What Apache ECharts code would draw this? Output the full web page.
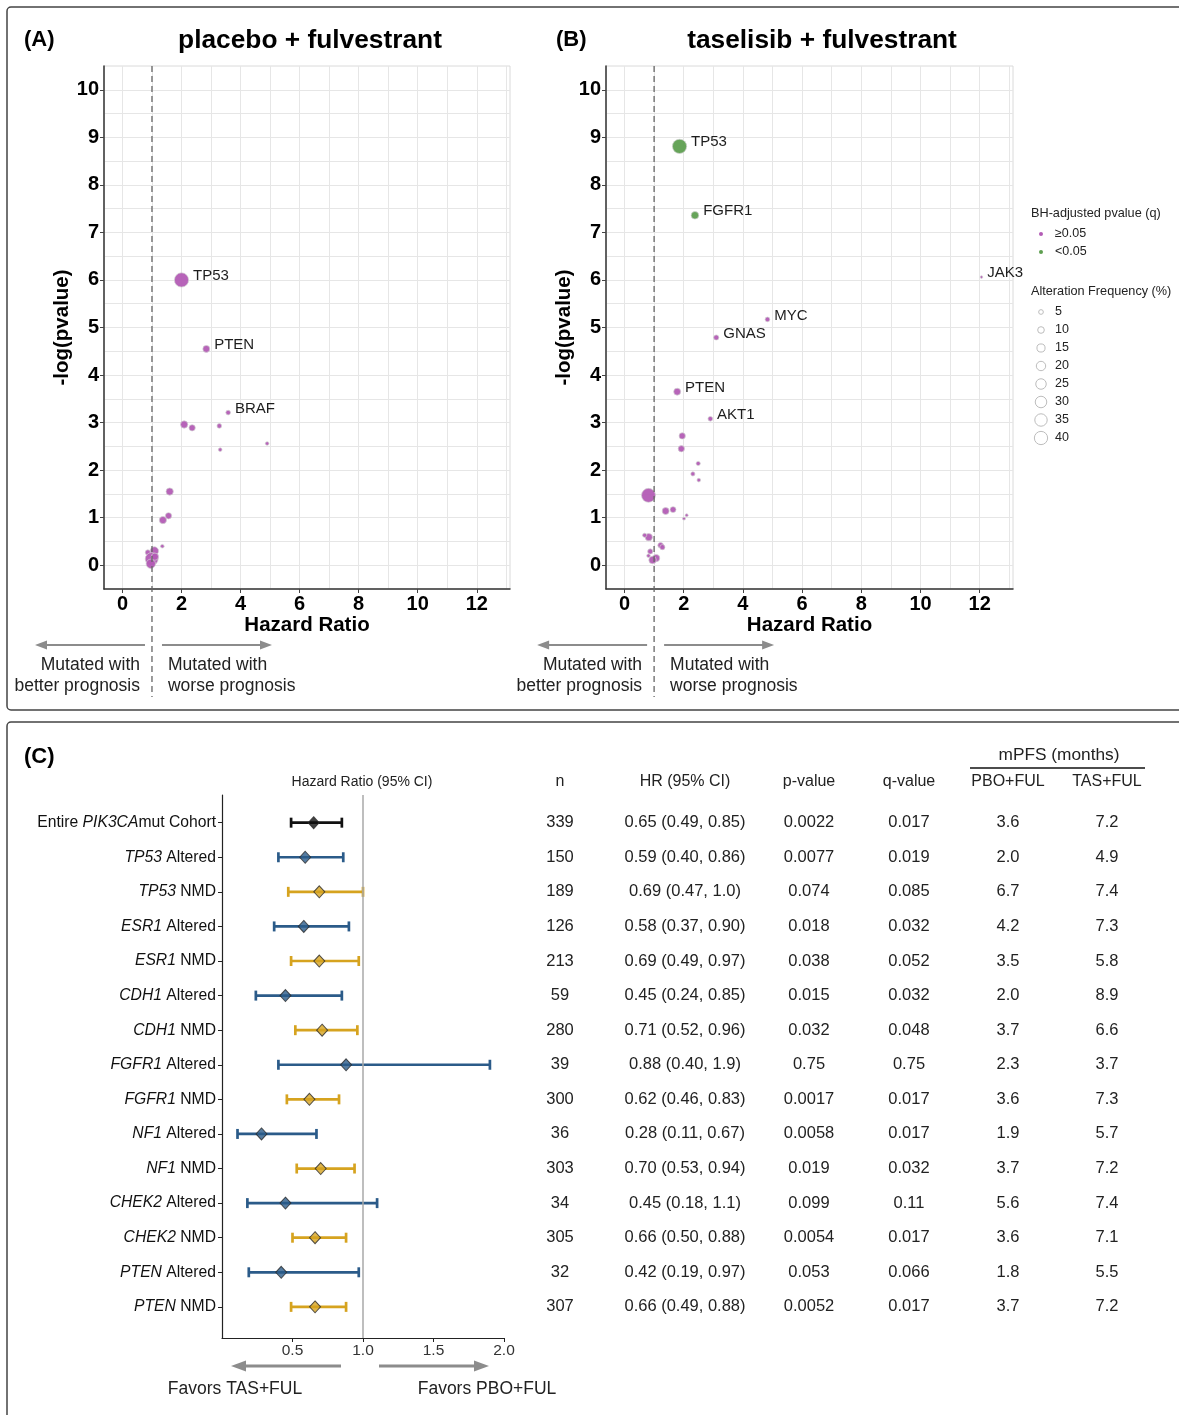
<!DOCTYPE html>
<html><head><meta charset="utf-8">
<script src="https://cdn.jsdelivr.net/npm/echarts@6/dist/echarts.min.js"></script>
<style>html,body{margin:0;padding:0;background:#fff}#c{width:1179px;height:1415px}</style>
</head><body><div id="c"></div>
<script>
// ---------- Panel A: placebo + fulvestrant ----------
const aHR   = [2.00, 2.84, 3.58, 2.09, 2.36, 3.28, 3.31, 4.90, 1.60, 1.56, 1.37, 1.35, 1.08, 0.86, 0.99, 0.96, 1.10];
const aNLP  = [6.00, 4.55, 3.21, 2.96, 2.89, 2.93, 2.43, 2.56, 1.55, 1.04, 0.95, 0.40, 0.30, 0.27, 0.13, 0.03, 0.18];
const aFreq = [46, 11, 5, 12, 9, 5, 3, 3, 12, 9, 12, 3, 16, 6, 38, 20, 12];
const aGene = ['TP53', 'PTEN', 'BRAF', '', '', '', '', '', '', '', '', '', '', '', '', '', ''];
const aSig  = [0, 0, 0, 0, 0, 0, 0, 0, 0, 0, 0, 0, 0, 0, 0, 0, 0];

// ---------- Panel B: taselisib + fulvestrant ----------
const bHR   = [1.86, 2.38, 12.06, 4.83, 3.10, 1.78, 2.90, 1.95, 1.92, 2.49, 2.31, 2.51, 0.81, 1.39, 1.64, 2.10, 2.01, 0.82, 0.68, 1.22, 1.28, 0.87, 0.81, 1.07, 0.95];
const bNLP  = [8.81, 7.36, 6.06, 5.17, 4.79, 3.65, 3.08, 2.72, 2.45, 2.14, 1.92, 1.79, 1.47, 1.14, 1.17, 1.05, 0.98, 0.59, 0.63, 0.42, 0.38, 0.29, 0.20, 0.15, 0.11];
const bFreq = [46, 13, 1.5, 5, 6, 11, 5, 9, 9, 4, 4, 3, 44, 11, 8, 2, 2, 12, 4, 7, 6, 6, 3, 12, 13];
const bGene = ['TP53', 'FGFR1', 'JAK3', 'MYC', 'GNAS', 'PTEN', 'AKT1', '', '', '', '', '', '', '', '', '', '', '', '', '', '', '', '', '', ''];
const bSig  = [1, 1, 0, 0, 0, 0, 0, 0, 0, 0, 0, 0, 0, 0, 0, 0, 0, 0, 0, 0, 0, 0, 0, 0, 0];

const scatterXTicks = [0, 2, 4, 6, 8, 10, 12];
const scatterYTicks = [0, 1, 2, 3, 4, 5, 6, 7, 8, 9, 10];
const legendFreq = [5, 10, 15, 20, 25, 30, 35, 40];
const legendQ = ['≥0.05', '<0.05'];

// ---------- Panel C: forest plot + table ----------
const rowGene  = ['PIK3CA', 'TP53', 'TP53', 'ESR1', 'ESR1', 'CDH1', 'CDH1', 'FGFR1', 'FGFR1', 'NF1', 'NF1', 'CHEK2', 'CHEK2', 'PTEN', 'PTEN'];
const rowGroup = ['Cohort', 'Altered', 'NMD', 'Altered', 'NMD', 'Altered', 'NMD', 'Altered', 'NMD', 'Altered', 'NMD', 'Altered', 'NMD', 'Altered', 'NMD'];
const rowN     = [339, 150, 189, 126, 213, 59, 280, 39, 300, 36, 303, 34, 305, 32, 307];
const rowHR    = [0.65, 0.59, 0.69, 0.58, 0.69, 0.45, 0.71, 0.88, 0.62, 0.28, 0.70, 0.45, 0.66, 0.42, 0.66];
const rowLo    = [0.49, 0.40, 0.47, 0.37, 0.49, 0.24, 0.52, 0.40, 0.46, 0.11, 0.53, 0.18, 0.50, 0.19, 0.49];
const rowHi    = [0.85, 0.86, 1.0, 0.90, 0.97, 0.85, 0.96, 1.9, 0.83, 0.67, 0.94, 1.1, 0.88, 0.97, 0.88];
const rowP     = ['0.0022', '0.0077', '0.074', '0.018', '0.038', '0.015', '0.032', '0.75', '0.0017', '0.0058', '0.019', '0.099', '0.0054', '0.053', '0.0052'];
const rowQ     = ['0.017', '0.019', '0.085', '0.032', '0.052', '0.032', '0.048', '0.75', '0.017', '0.017', '0.032', '0.11', '0.017', '0.066', '0.017'];
const rowPBO   = ['3.6', '2.0', '6.7', '4.2', '3.5', '2.0', '3.7', '2.3', '3.6', '1.9', '3.7', '5.6', '3.6', '1.8', '3.7'];
const rowTAS   = ['7.2', '4.9', '7.4', '7.3', '5.8', '8.9', '6.6', '3.7', '7.3', '5.7', '7.2', '7.4', '7.1', '5.5', '7.2'];
const forestTicks = [0.5, 1.0, 1.5, 2.0];

// ---------- styling ----------
const FONT = '"Liberation Sans", Arial, Helvetica, sans-serif';
const PURPLE = '#B35CB5', GREEN = '#5E9F50';
const GROUP_COLOR = { Cohort: '#111111', Altered: '#2B5B89', NMD: '#D6A31F' };
const sizeOf = f => 2.1 * Math.sqrt(f);
const fmtCI = v => v >= 1 ? v.toFixed(1) : v.toFixed(2);

const rng = (a, b, s) => { const r = []; for (let v = a; v <= b + 1e-9; v += s) r.push(+v.toFixed(3)); return r; };
const xGrid = rng(0, 13, 1), yGrid = rng(0, 10, 0.5);
const rowIdx = rowN.map((_, i) => i + 1);

const GRIDS = [
  { left: 104, top: 66, width: 406, height: 523 },
  { left: 606, top: 66, width: 407, height: 523 },
  { left: 222, top: 795, width: 282, height: 543 }
];

function scatterAxes(gi) {
  const xa = [
    { gridIndex: gi, type: 'value', min: -0.625, max: 13.125, position: 'bottom',
      axisLine: { show: true, onZero: false, lineStyle: { color: '#333', width: 1.5 } },
      axisTick: { show: false, customValues: xGrid }, axisLabel: { show: false },
      splitLine: { show: true, lineStyle: { color: '#E6E6E6', width: 1 } } },
    { gridIndex: gi, type: 'value', min: -0.625, max: 13.125, position: 'bottom',
      axisLine: { show: false, onZero: false }, splitLine: { show: false },
      axisTick: { show: true, customValues: scatterXTicks, length: 4, lineStyle: { color: '#444' } },
      axisLabel: { customValues: scatterXTicks, fontSize: 20, fontWeight: 'bold', color: '#000', margin: 5, fontFamily: FONT },
      name: 'Hazard Ratio', nameLocation: 'middle', nameGap: 24,
      nameTextStyle: { fontSize: 20.5, fontWeight: 'bold', color: '#000', fontFamily: FONT } }
  ];
  const ya = [
    { gridIndex: gi, type: 'value', min: -0.5, max: 10.5, position: 'left',
      axisLine: { show: true, onZero: false, lineStyle: { color: '#333', width: 1.5 } },
      axisTick: { show: false, customValues: yGrid }, axisLabel: { show: false },
      splitLine: { show: true, lineStyle: { color: '#E6E6E6', width: 1 } } },
    { gridIndex: gi, type: 'value', min: -0.5, max: 10.5, position: 'left',
      axisLine: { show: false, onZero: false }, splitLine: { show: false },
      axisTick: { show: true, customValues: scatterYTicks, length: 4, lineStyle: { color: '#444' } },
      axisLabel: { customValues: scatterYTicks, fontSize: 20, fontWeight: 'bold', color: '#000', margin: 5, fontFamily: FONT },
      name: '-log(pvalue)', nameLocation: 'middle', nameGap: 30,
      nameTextStyle: { fontSize: 20.5, fontWeight: 'bold', color: '#000', fontFamily: FONT } }
  ];
  return { xa, ya };
}

function scatterSeries(xi, yi, hr, nlp, freq, gene, sig) {
  return {
    type: 'scatter', xAxisIndex: xi, yAxisIndex: yi, silent: true, z: 3,
    data: hr.map((h, i) => ({ value: [h, nlp[i], freq[i]], name: gene[i],
      itemStyle: { color: sig[i] ? GREEN : PURPLE } })),
    symbolSize: v => sizeOf(v[2]),
    itemStyle: { borderColor: 'rgba(210,210,210,0.9)', borderWidth: 0.8, opacity: 0.95 },
    label: { show: true, position: 'right', distance: 4, formatter: p => p.name,
      fontSize: 15, color: '#111', fontFamily: FONT },
    labelLayout: { hideOverlap: false, dy: -4 }
  };
}

const A = scatterAxes(0), B = scatterAxes(1);

const option = {
  animation: false,
  backgroundColor: '#fff',
  textStyle: { fontFamily: FONT },
  grid: [
    Object.assign({ show: true, borderColor: '#DADADA', borderWidth: 1, containLabel: false }, GRIDS[0]),
    Object.assign({ show: true, borderColor: '#DADADA', borderWidth: 1, containLabel: false }, GRIDS[1]),
    Object.assign({ show: false, containLabel: false }, GRIDS[2])
  ],
  xAxis: [
    ...A.xa, ...B.xa,
    { gridIndex: 2, type: 'value', min: 0, max: 2, position: 'bottom',
      axisLine: { show: true, onZero: false, lineStyle: { color: '#222', width: 1.2 } },
      axisTick: { show: true, customValues: forestTicks, length: 4, lineStyle: { color: '#222' } },
      axisLabel: { customValues: forestTicks, formatter: v => v.toFixed(1), fontSize: 15.5, color: '#333', margin: 5, fontFamily: FONT },
      splitLine: { show: false } }
  ],
  yAxis: [
    ...A.ya, ...B.ya,
    { gridIndex: 2, type: 'value', min: 0.2, max: 15.9, inverse: true, position: 'left',
      axisLine: { show: true, onZero: false, lineStyle: { color: '#222', width: 1.2 } },
      axisTick: { show: true, customValues: rowIdx, length: 4, lineStyle: { color: '#222' } },
      axisLabel: { customValues: rowIdx, margin: 6, fontSize: 15.7, color: '#111', fontFamily: FONT,
        formatter: v => {
          const i = Math.round(v) - 1;
          if (rowGroup[i] === 'Cohort') return 'Entire {i|' + rowGene[i] + '}mut Cohort';
          return '{i|' + rowGene[i] + '} ' + rowGroup[i];
        },
        rich: { i: { fontStyle: 'italic', fontSize: 15.7, color: '#111', fontFamily: FONT } } },
      splitLine: { show: false } }
  ],
  series: [
    scatterSeries(0, 0, aHR, aNLP, aFreq, aGene, aSig),
    scatterSeries(2, 2, bHR, bNLP, bFreq, bGene, bSig),
    {
      type: 'custom', xAxisIndex: 4, yAxisIndex: 4, silent: true, z: 2,
      data: rowHR.map((_, i) => [rowLo[i], rowHi[i], i + 1, i]),
      encode: { x: [0, 1], y: 2 },
      renderItem: (params, api) => {
        const a = api.coord([api.value(0), api.value(2)]);
        const b = api.coord([api.value(1), api.value(2)]);
        const c = GROUP_COLOR[rowGroup[api.value(3)]];
        const h = 5, st = { stroke: c, lineWidth: 2.7 };
        return { type: 'group', children: [
          { type: 'line', shape: { x1: a[0], y1: a[1], x2: b[0], y2: b[1] }, style: st },
          { type: 'line', shape: { x1: a[0], y1: a[1] - h, x2: a[0], y2: a[1] + h }, style: st },
          { type: 'line', shape: { x1: b[0], y1: b[1] - h, x2: b[0], y2: b[1] + h }, style: st }
        ] };
      }
    },
    {
      type: 'scatter', xAxisIndex: 4, yAxisIndex: 4, silent: true, z: 4,
      symbol: 'diamond', symbolSize: [11, 12],
      data: rowHR.map((h, i) => ({ value: [h, i + 1], itemStyle: { color: GROUP_COLOR[rowGroup[i]] } })),
      itemStyle: { borderColor: '#2a2a2a', borderWidth: 1 },
      markLine: { silent: true, symbol: 'none', label: { show: false },
        lineStyle: { color: '#A8A8A8', type: 'solid', width: 1.5 }, data: [{ xAxis: 1 }] }
    }
  ]
};

const chart = echarts.init(document.getElementById('c'), null, { renderer: 'canvas', width: 1179, height: 1415 });
chart.setOption(option);

// ---------- annotations ----------
const g = [];
function txt(x, y, t, o) {
  o = o || {};
  g.push({ type: 'text', x: x, y: y, silent: true, z: 10,
    style: { text: t, fontSize: o.size || 15, fontWeight: o.weight || 'normal', fontStyle: o.style || 'normal',
      fontFamily: FONT, fill: o.color || '#111',
      align: o.align || 'left', textAlign: o.align || 'left',
      verticalAlign: 'middle', textVerticalAlign: 'middle' } });
}
function arrow(x1, x2, y, w, hl, hw, color) {
  const d = Math.sign(x2 - x1);
  g.push({ type: 'line', silent: true, z: 10, shape: { x1: x1, y1: y, x2: x2 - d * hl * 0.7, y2: y }, style: { stroke: color, lineWidth: w } });
  g.push({ type: 'polygon', silent: true, z: 10, shape: { points: [[x2, y], [x2 - d * hl, y - hw / 2], [x2 - d * hl, y + hw / 2]] }, style: { fill: color } });
}

// outer boxes
g.push({ type: 'rect', silent: true, z: 0, shape: { x: 7, y: 7, width: 1200, height: 703, r: 4 }, style: { fill: 'none', stroke: '#444', lineWidth: 1.5 } });
g.push({ type: 'rect', silent: true, z: 0, shape: { x: 7, y: 722, width: 1200, height: 720, r: 4 }, style: { fill: 'none', stroke: '#444', lineWidth: 1.5 } });

// panel titles
txt(24, 40, '(A)', { size: 22, weight: 'bold', color: '#000' });
txt(310, 41, 'placebo + fulvestrant', { size: 26.3, weight: 'bold', color: '#000', align: 'center' });
txt(556, 40, '(B)', { size: 22, weight: 'bold', color: '#000' });
txt(822, 41, 'taselisib + fulvestrant', { size: 26.3, weight: 'bold', color: '#000', align: 'center' });
txt(24, 757, '(C)', { size: 22, weight: 'bold', color: '#000' });

// HR = 1 dashed lines + prognosis arrows
[0, 2].forEach((xi, k) => {
  const gx = chart.convertToPixel({ xAxisIndex: xi }, 1);
  const top = GRIDS[k].top;
  g.push({ type: 'line', silent: true, z: 9, shape: { x1: gx, y1: top, x2: gx, y2: 697 },
    style: { stroke: '#666', lineWidth: 1.3, lineDash: [6, 4] } });
  arrow(gx - 7, gx - 117, 645, 2, 12, 9, '#8C8C8C');
  arrow(gx + 10, gx + 120, 645, 2, 12, 9, '#8C8C8C');
  txt(gx - 12, 665, 'Mutated with', { size: 17.5, color: '#222', align: 'right' });
  txt(gx - 12, 686, 'better prognosis', { size: 17.5, color: '#222', align: 'right' });
  txt(gx + 16, 665, 'Mutated with', { size: 17.5, color: '#222' });
  txt(gx + 16, 686, 'worse prognosis', { size: 17.5, color: '#222' });
});

// legend for panel B
txt(1031, 213, 'BH-adjusted pvalue (q)', { size: 12.7, color: '#222' });
[PURPLE, GREEN].forEach((c, k) => {
  g.push({ type: 'circle', silent: true, z: 10, shape: { cx: 1041, cy: 234 + 18 * k, r: 2 }, style: { fill: c } });
  txt(1055, 234 + 18 * k, legendQ[k], { size: 12.5, color: '#222' });
});
txt(1031, 291, 'Alteration Frequency (%)', { size: 12.7, color: '#222' });
legendFreq.forEach((f, k) => {
  g.push({ type: 'circle', silent: true, z: 10, shape: { cx: 1041, cy: 312 + 18 * k, r: sizeOf(f) / 2 },
    style: { fill: '#fff', stroke: '#BDBDBD', lineWidth: 1 } });
  txt(1055, 312 + 18 * k, String(f), { size: 12.5, color: '#222' });
});

// forest header and table
txt(362, 782, 'Hazard Ratio (95% CI)', { size: 14, color: '#222', align: 'center' });
const cols = [560, 685, 809, 909, 1008, 1107];
const heads = ['n', 'HR (95% CI)', 'p-value', 'q-value', 'PBO+FUL', 'TAS+FUL'];
heads.forEach((h, k) => txt(cols[k], 782, h, { size: 16, color: '#222', align: 'center' }));
txt(1059, 755, 'mPFS (months)', { size: 17.3, color: '#222', align: 'center' });
g.push({ type: 'line', silent: true, z: 10, shape: { x1: 970, y1: 768, x2: 1145, y2: 768 }, style: { stroke: '#111', lineWidth: 1.5 } });
rowN.forEach((n, i) => {
  const y = chart.convertToPixel({ yAxisIndex: 4 }, i + 1);
  const cells = [String(n), rowHR[i].toFixed(2) + ' (' + fmtCI(rowLo[i]) + ', ' + fmtCI(rowHi[i]) + ')',
    rowP[i], rowQ[i], rowPBO[i], rowTAS[i]];
  cells.forEach((c, k) => txt(cols[k], y, c, { size: 16.5, color: '#222', align: 'center' }));
});

// favors arrows
const f1 = chart.convertToPixel({ xAxisIndex: 4 }, 1);
arrow(f1 - 22, f1 - 132, 1366, 3, 15, 11, '#8C8C8C');
arrow(f1 + 16, f1 + 126, 1366, 3, 15, 11, '#8C8C8C');
txt(235, 1389, 'Favors TAS+FUL', { size: 17.5, color: '#222', align: 'center' });
txt(487, 1389, 'Favors PBO+FUL', { size: 17.5, color: '#222', align: 'center' });

chart.setOption({ graphic: { elements: g } });
</script>
</body></html>
